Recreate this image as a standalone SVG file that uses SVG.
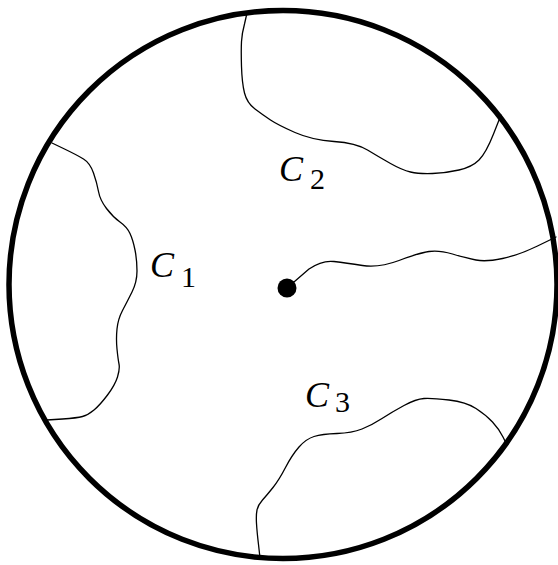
<svg xmlns="http://www.w3.org/2000/svg" width="558" height="565" viewBox="0 0 558 565">
<style>
.curve{fill:none;stroke:#000;stroke-width:1.3;stroke-linejoin:round;stroke-linecap:round}
.lbl{font-family:"Liberation Serif","Times New Roman",serif;fill:#000}
.it{font-style:italic;font-size:36px}
.sub{font-style:normal;font-size:30px}
</style>
<rect width="558" height="565" fill="#fff"/>
<g id="disk">
<circle cx="283" cy="284.5" r="274" fill="none" stroke="#000" stroke-width="5.5"/>
</g>
<g id="curves">
<path id="c1" class="curve" d="M52,143 L64.5,149 Q77,155 83.5,159 Q90,163 93.5,173 Q97,183 98.5,191.5 Q100,200 106.5,208.5 Q113,217 120,222 Q127,227 130,233.5 Q133,240 135,250 Q137,260 137,271 Q137,282 132,292 Q127,302 122.5,310.5 Q118,319 117,329 Q116,339 117,349 Q118,359 119,364 Q120,369 117.5,377 Q115,385 107.5,395 Q100,405 94,410 Q88,415 82.5,416.5 Q77,418 62.5,419 L47,420"/>
<path id="c2" class="curve" d="M247,13 L244.5,24 Q242,33 241.5,41.5 Q241,50 241.5,66.5 Q242,83 244.5,93 Q247,103 255,109 Q263,115 270.5,120 Q278,125 295,132.5 Q312,140 334,141.5 Q356,143 367.5,150 Q379,157 390.5,163.5 Q402,170 410.5,172 Q419,174 432.5,173.5 Q446,173 459,170 Q472,167 479,160 Q486,153 493.5,134 L501,115"/>
<path id="ray" class="curve" d="M287,288 L309,269 Q322,260 334,261.5 Q346,263 362.5,265.5 Q379,268 399,260.5 Q419,253 429,251.5 Q439,250 452.5,254 Q466,258 476,260 Q486,262 502.5,258.5 Q519,255 537.5,246 L556,237"/>
<path id="c3" class="curve" d="M260,558 L258.5,544.5 Q257,532 256.5,523.5 Q256,515 257,510 Q258,505 262.5,500 Q267,495 273,487.5 Q279,480 285.5,467.5 Q292,455 299,447 Q306,439 314,436.5 Q322,434 337,433.5 Q352,433 362,429 Q372,425 382,418.5 Q392,412 404,405.5 Q416,399 424,398.5 Q432,398 449,400 Q466,402 476,408.5 Q486,415 492.5,422 Q499,429 503,437 L507,445"/>
</g>
<g id="point">
<circle cx="287" cy="288" r="9.5" fill="#000"/>
</g>
<g id="labels">
<text id="label-c1" class="lbl"><tspan class="it" x="150" y="277">C</tspan><tspan class="sub" x="181" y="287">1</tspan></text>
<text id="label-c2" class="lbl"><tspan class="it" x="279" y="181">C</tspan><tspan class="sub" x="310" y="189">2</tspan></text>
<text id="label-c3" class="lbl"><tspan class="it" x="305" y="407">C</tspan><tspan class="sub" x="335" y="412">3</tspan></text>
</g>
</svg>
